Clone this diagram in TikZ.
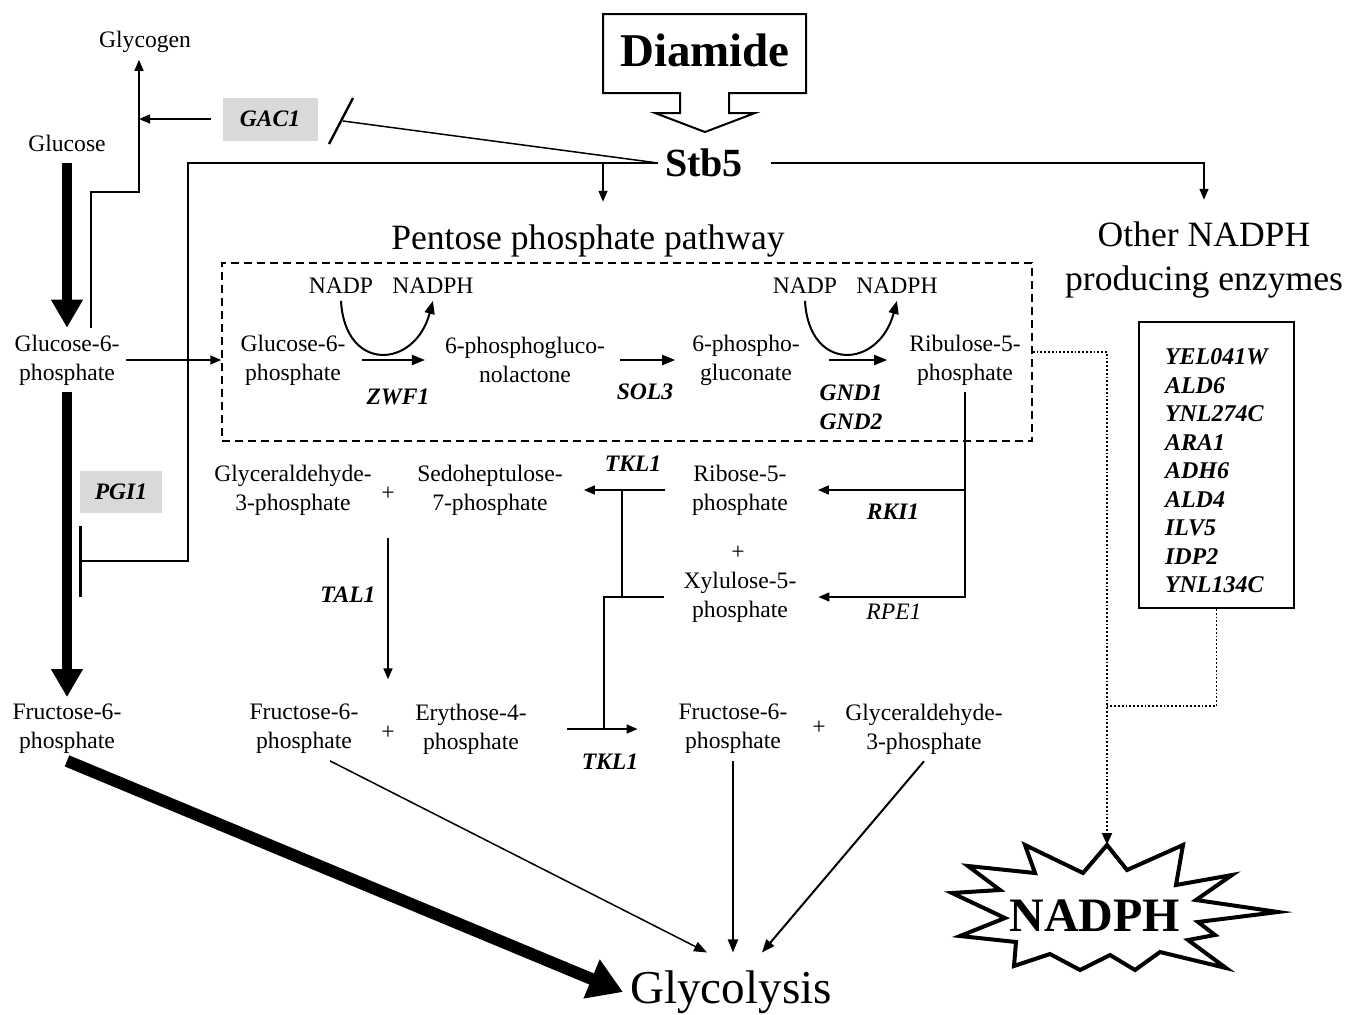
\documentclass[tikz,border=0pt]{standalone}
\usepackage{fontspec}
\setmainfont{Liberation Serif}
\usetikzlibrary{arrows.meta,positioning,calc}

\begin{document}
\begin{tikzpicture}[x=0.5pt,y=-0.5pt,
    every node/.style={font=\fontsize{11.8}{14.5}\selectfont,align=center},
    gene/.style={font=\fontsize{11.8}{14.5}\selectfont\bfseries\itshape},
    genebox/.style={gene,fill=gray!30,inner sep=0pt},
    big/.style={font=\fontsize{17.8}{22}\selectfont},
    arr/.style={line width=0.75pt,-{Triangle[length=5.5pt,width=4.5pt]}},
    rxn/.style={line width=1pt,-{Triangle[length=6.5pt,width=5pt]}},
    bigarr/.style={line width=5pt,-{Triangle[length=14pt,width=15pt]}},
    dotline/.style={densely dotted,line width=0.9pt}]
\useasboundingbox (0,0) rectangle (1346,1014);
%
% left column: glucose, glycogen
\node (glycogen) at (145,42) {Glycogen};
\node (glucose) at (67,143) {Glucose};
\node (g6p) at (67,360) {Glucose-6-\\phosphate};
\node (f6p) at (67,729) {Fructose-6-\\phosphate};
\node[genebox,minimum width=47.5pt,minimum height=21.5pt] (gac1) at (270,119) {GAC1};
\node[genebox,minimum width=41pt,minimum height=21pt] (pgi1) at (121,492) {PGI1};
%
% diamide and the regulator
\draw[line width=1pt] (603,14) -- (806,14) -- (806,93) -- (729,93) -- (729,113) -- (755,113)
    -- (705,132) -- (655,113) -- (680,113) -- (680,93) -- (603,93) -- cycle;
\node[font=\fontsize{23.5}{28}\selectfont\bfseries] (diamide) at (705,50) {Diamide};
\node[font=\fontsize{20}{24}\selectfont\bfseries] (stb5) at (704,163) {Stb5};
\node[big] (ppp) at (588,241) {Pentose phosphate pathway};
\node[big] (other) at (1204,260) {Other NADPH\\producing enzymes};
%
% oxidative branch
\node[draw,dash pattern=on 4pt off 2.5pt,line width=0.75pt,minimum width=405pt,minimum height=89pt] (ppbox) at (627,352) {};
\node (nadp1) at (341,286) {NADP};
\node (nadph1) [right=2.5pt of nadp1] {NADPH};
\node (g6pin) at (293,360) {Glucose-6-\\phosphate};
\node (pgl) at (525,360) {6-phosphogluco-\\nolactone};
\node (pg) at (746,360) {6-phospho-\\gluconate};
\node (nadp2) at (805,286) {NADP};
\node (nadph2) [right=2.5pt of nadp2] {NADPH};
\node (ru5p) at (965,360) {Ribulose-5-\\phosphate};
\node[gene] (zwf1) at (398,397) {ZWF1};
\node[gene] (sol3) at (645,392) {SOL3};
\node[gene] (gnd) at (851,407) {GND1\\GND2};
%
% non-oxidative branch
\node (gap1) at (293,490) {Glyceraldehyde-\\3-phosphate};
\node (plus1) at (388,494) {+};
\node (s7p) at (490,490) {Sedoheptulose-\\7-phosphate};
\node (r5p) at (740,490) {Ribose-5-\\phosphate};
\node (plus2) at (738,553) {+};
\node (x5p) at (740,597) {Xylulose-5-\\phosphate};
\node[gene] (tkl1a) at (633,464) {TKL1};
\node[gene] (rki1) at (893,512) {RKI1};
\node[font=\fontsize{11.8}{14.5}\selectfont\itshape] (rpe1) at (894,612) {RPE1};
\node[gene] (tal1) at (348,595) {TAL1};
\node (f6p2) at (304,729) {Fructose-6-\\phosphate};
\node (plus3) at (388,733) {+};
\node (e4p) at (471,729) {Erythose-4-\\phosphate};
\node[gene] (tkl1b) at (610,762) {TKL1};
\node (f6p3) at (733,729) {Fructose-6-\\phosphate};
\node (plus4) at (819,728) {+};
\node (gap2) at (924,729) {Glyceraldehyde-\\3-phosphate};
\node[font=\fontsize{23.6}{28}\selectfont] (glycolysis) at (731,992) {Glycolysis};
%
% other enzymes and NADPH
\node[draw,line width=1pt,gene,font=\fontsize{12}{14.25}\selectfont\bfseries\itshape,align=left,text width=51.5pt,inner xsep=13pt,minimum height=143pt] (enz) at (1216.5,465)
    {\rule{0pt}{14pt}YEL041W\\ALD6\\YNL274C\\ARA1\\ADH6\\ALD4\\ILV5\\IDP2\\YNL134C};
\draw[line width=2pt,fill=white] (1107,845) -- (1127,870) -- (1183,845) -- (1176,885) -- (1232,875)
    -- (1196,900) -- (1278,912) -- (1198,922) -- (1215,935) -- (1188,940) -- (1226,968)
    -- (1160,952) -- (1135,970) -- (1110,955) -- (1080,970) -- (1050,954) -- (1014,966)
    -- (1016,942) -- (960,936) -- (1005,918) -- (952,893) -- (1000,890) -- (968,866)
    -- (1035,873) -- (1025,845) -- (1083,873) -- cycle;
\node[font=\fontsize{24}{28}\selectfont\bfseries] (nadph) at (1095,916) {NADPH};
%
\coordinate (gbr) at (139,192);
\coordinate (gacbar) at (343,121);
\coordinate (pgicorner) at (188,561);
\coordinate (pgibar) at (79,561);
\coordinate (s1) at (603,163);
\coordinate (tk1) at (622,490);
\coordinate (tk2) at (622,597);
\coordinate (tkx) at (604,597);
\coordinate (startop) at (1107,845);
\coordinate (dj) at (1107,706);
\coordinate (gl1) at ($(glycolysis.north)+(-24,-11)$);
\coordinate (gl3) at ($(glycolysis.north)+(31,-11)$);
%
% glycolysis / glycogen
\draw[bigarr,shorten <=2.5pt] (glucose) -- (g6p);
\draw[bigarr] (g6p) -- (f6p);
\draw[arr] ([xshift=12pt]g6p.north) |- (gbr) -- (gbr |- glycogen.south);
\draw[arr,shorten <=5.5pt] (gac1) -- (gac1 -| gbr);
%
% Stb5 targets
\draw[line width=0.75pt] (stb5.west) -- (gacbar);
\draw[line width=1.2pt] ($(gacbar)+(-14,23)$) -- ($(gacbar)+(10,-23)$);
\draw[line width=0.75pt,-{Bar[width=35.5pt,line width=1.5pt]}] (stb5.west) -| (pgicorner) -- (pgibar);
\draw[arr] (s1) -- ($(s1 |- ppp.north)+(0,-16)$);
\draw[arr,shorten <=10.5pt] (stb5.east) -| ($(other.north)+(0,-15)$);
%
% oxidative reactions
\draw[arr] (g6p) -- (g6p -| ppbox.west);
\draw[rxn,shorten <=5pt,shorten >=6.5pt] (g6pin) -- (pgl);
\draw[rxn] (nadp1.south) .. controls +(4,72) and +(-18,68) .. (nadph1.south);
\draw[rxn,shorten <=4pt,shorten >=5pt] (pgl) -- (pg);
\draw[rxn,shorten <=11pt,shorten >=7.5pt] (pg) -- (ru5p);
\draw[rxn] (nadp2.south) .. controls +(4,72) and +(-18,68) .. (nadph2.south);
%
% non-oxidative reactions
\draw[arr,shorten <=4pt,shorten >=11.5pt] (ru5p.south) |- (r5p.east);
\draw[arr,shorten >=7.5pt] (ru5p.south) |- (x5p.east);
\draw[arr] ([xshift=-10pt]r5p.west) -- ([xshift=7pt]s7p.east);
\draw[line width=0.75pt] (tk1) -- (tk2);
\draw[line width=0.75pt] ([xshift=-6.5pt]x5p.west) -- (tkx) -- (tkx |- e4p.east);
\draw[arr] ([xshift=16.5pt]e4p.east) -- ([xshift=-17pt]f6p3.west);
\draw[arr,shorten <=15pt,shorten >=20pt] (plus1) -- (plus3);
%
% to glycolysis
\draw[line width=6pt,-{Triangle[length=17pt,width=20pt]}] (f6p.south) -- (glycolysis.west);
\draw[rxn,line width=0.75pt] ([xshift=13pt]f6p2.south) -- (gl1);
\draw[rxn] (f6p3.south) -- (f6p3.south |- gl1);
\draw[rxn] (gap2.south) -- (gl3);
%
% other NADPH sources
\draw[dotline,-{Triangle[length=6pt,width=5pt]}] (ppbox.east) -| (startop);
\draw[dotline] (enz.south) |- (dj);
\end{tikzpicture}
\end{document}
